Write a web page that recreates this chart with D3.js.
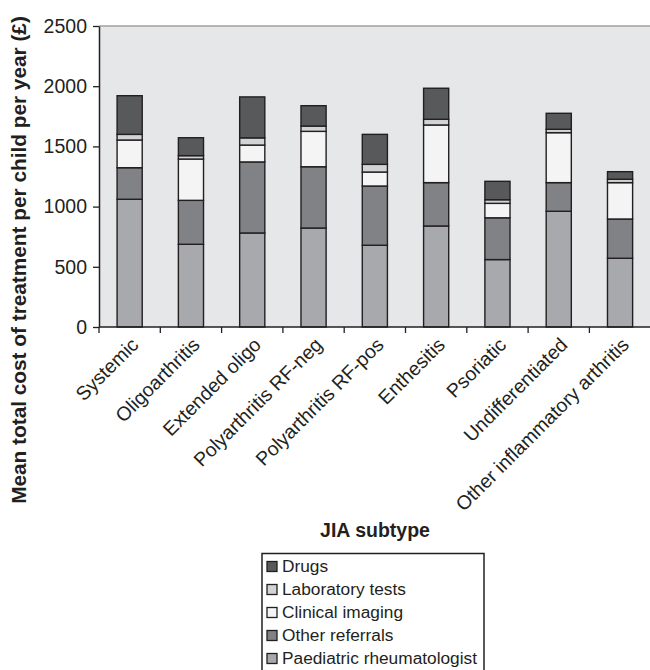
<!DOCTYPE html>
<html><head><meta charset="utf-8">
<script src="https://cdn.jsdelivr.net/npm/d3@7"></script>
<style>
body{margin:0;background:#fff;}
text{font-family:"Liberation Sans",Arial,Helvetica,sans-serif;fill:#231f20;}
</style></head>
<body><svg id="c" width="650" height="670"></svg>
<script>
const categories = ["Systemic","Oligoarthritis","Extended oligo","Polyarthritis RF-neg","Polyarthritis RF-pos","Enthesitis","Psoriatic","Undifferentiated","Other inflammatory arthritis"];
const paediatricRheumatologist = [1061, 687, 781, 822, 679, 839, 560, 961, 571];
const otherReferrals = [262, 365, 590, 509, 492, 360, 347, 238, 326];
const clinicalImaging = [230, 343, 140, 294, 116, 479, 120, 415, 302];
const laboratoryTests = [47, 28, 60, 44, 64, 47, 30, 28, 28];
const drugs = [321, 149, 340, 169, 249, 258, 153, 133, 63];
const yTicks = [0, 500, 1000, 1500, 2000, 2500];
const seriesNames = ["Paediatric rheumatologist","Other referrals","Clinical imaging","Laboratory tests","Drugs"];
const seriesColors = ["#a7a9ac","#808285","#f4f4f4","#d1d3d4","#58595b"];
const legendOrder = ["Drugs","Laboratory tests","Clinical imaging","Other referrals","Paediatric rheumatologist"];

const seriesValues = [paediatricRheumatologist, otherReferrals, clinicalImaging, laboratoryTests, drugs];
const rows = categories.map((c,i)=>{const o={cat:c}; seriesNames.forEach((s,j)=>o[s]=seriesValues[j][i]); return o;});
const stacked = d3.stack().keys(seriesNames)(rows);
const color = d3.scaleOrdinal().domain(seriesNames).range(seriesColors);

const svg = d3.select("#c");
const L=99, R=650.7, T=26, B=327;
const x = d3.scaleBand().domain(categories).range([L,R]).paddingInner(0.59).paddingOuter(0.295);
const y = d3.scaleLinear().domain([0,2500]).range([B,T]);
const step = x.step();

svg.append("rect").attr("x",L).attr("y",T).attr("width",R-L).attr("height",B-T).attr("fill","#e6e7e8");
svg.append("line").attr("x1",L).attr("x2",R).attr("y1",T).attr("y2",T).attr("stroke","#a0a0a0").attr("stroke-width",1.5);

// bars
svg.append("g").selectAll("g").data(stacked).join("g").attr("fill",d=>color(d.key))
  .selectAll("rect").data(d=>d).join("rect")
  .attr("x",d=>x(d.data.cat)).attr("width",x.bandwidth())
  .attr("y",d=>y(d[1])).attr("height",d=>y(d[0])-y(d[1]))
  .attr("stroke","#231f20").attr("stroke-width",1.4);

// y axis
const ya = svg.append("g").attr("transform",`translate(${L},0)`)
  .call(d3.axisLeft(y).tickValues(yTicks).tickFormat(d3.format("d")).tickSize(6).tickSizeOuter(0).tickPadding(6));
ya.select(".domain").attr("stroke","#231f20").attr("stroke-width",1.5);
ya.selectAll(".tick line").attr("stroke","#231f20").attr("stroke-width",1.3);
ya.selectAll(".tick text").style("font-size","19.5px").attr("fill","#231f20");

// x axis
const xg = svg.append("g");
xg.append("line").attr("x1",L).attr("x2",R).attr("y1",B).attr("y2",B).attr("stroke","#231f20").attr("stroke-width",1.5);
const bounds = categories.map((c,i)=>L+i*step);
xg.selectAll("line.t").data(bounds).join("line").attr("class","t")
  .attr("x1",d=>d).attr("x2",d=>d).attr("y1",B).attr("y2",B+6).attr("stroke","#231f20").attr("stroke-width",1.3);
xg.selectAll("text").data(categories).join("text")
  .attr("transform",c=>`translate(${x(c)+x.bandwidth()/2+10},346) rotate(-45)`)
  .attr("text-anchor","end").style("font-size","19.5px").text(c=>c);

// titles
svg.append("text").attr("transform","translate(26,260) rotate(-90)").attr("text-anchor","middle")
  .style("font-size","20.8px").style("font-weight","bold").text("Mean total cost of treatment per child per year (£)");
svg.append("text").attr("x",375).attr("y",537).attr("text-anchor","middle")
  .style("font-size","19.5px").style("font-weight","bold").text("JIA subtype");

// legend
const lg = svg.append("g");
lg.append("rect").attr("x",262).attr("y",553.5).attr("width",222).attr("height",140).attr("fill","#fff").attr("stroke","#231f20").attr("stroke-width",1.5);
const li = lg.selectAll("g.i").data(legendOrder).join("g").attr("class","i")
  .attr("transform",(d,i)=>`translate(267,${571.5+i*23})`);
li.append("rect").attr("x",0).attr("y",-10).attr("width",10).attr("height",10).attr("fill",d=>color(d)).attr("stroke","#231f20").attr("stroke-width",1.3);
li.append("text").attr("x",15).attr("y",0).style("font-size","17.3px").text(d=>d);
</script></body></html>
